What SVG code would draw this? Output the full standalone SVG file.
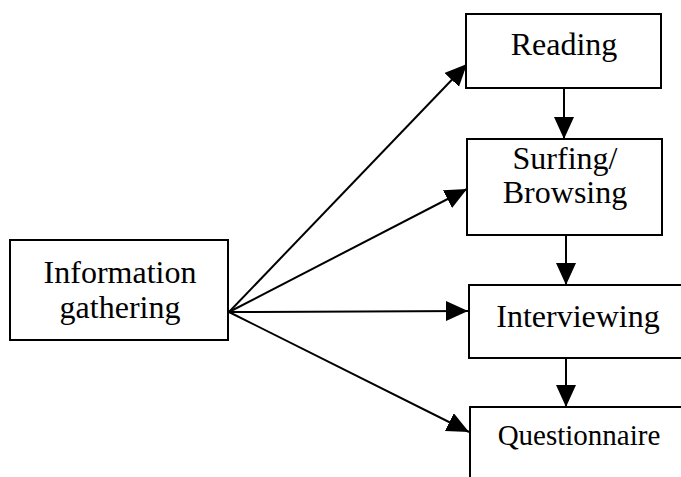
<svg xmlns="http://www.w3.org/2000/svg" width="681" height="477" viewBox="0 0 681 477">
  <defs>
    <marker id="head" markerUnits="userSpaceOnUse" markerWidth="24" markerHeight="22" refX="22" refY="10" orient="auto">
      <path d="M0,0 L22,10 L0,20 Z" fill="#000"/>
    </marker>
    <style>
      .box { fill: #fff; stroke: #000; stroke-width: 2; }
      .lbl { font-family: "Liberation Serif", "Times New Roman", serif; font-size: 32px; fill: #000; text-anchor: middle; }
      .edge { stroke: #000; stroke-width: 2; fill: none; marker-end: url(#head); }
    </style>
  </defs>
  <rect width="681" height="477" fill="#fff"/>

  <g id="connectors">
    <line class="edge" x1="229" y1="312" x2="467" y2="64"/>
    <line class="edge" x1="229" y1="312" x2="467" y2="189"/>
    <line class="edge" x1="229" y1="312" x2="468" y2="311"/>
    <line class="edge" x1="229" y1="312" x2="469" y2="432"/>
    <line class="edge" x1="564" y1="88" x2="564" y2="139"/>
    <line class="edge" x1="566" y1="235" x2="566" y2="285"/>
    <line class="edge" x1="566" y1="358" x2="566" y2="407"/>
  </g>

  <g id="information-gathering">
    <rect class="box" x="10" y="240" width="218" height="100"/>
    <text class="lbl" x="120" y="283">Information</text>
    <text class="lbl" x="120" y="318">gathering</text>
  </g>

  <g id="reading">
    <rect class="box" x="466" y="14" width="195" height="74"/>
    <text class="lbl" x="564" y="55">Reading</text>
  </g>

  <g id="surfing-browsing">
    <rect class="box" x="467" y="139" width="195" height="96"/>
    <text class="lbl" x="565" y="169">Surfing/</text>
    <text class="lbl" x="565" y="203">Browsing</text>
  </g>

  <g id="interviewing">
    <rect class="box" x="469" y="285" width="225" height="73"/>
    <text class="lbl" x="578" y="327">Interviewing</text>
  </g>

  <g id="questionnaire">
    <rect class="box" x="470" y="407" width="225" height="90"/>
    <text class="lbl" x="579" y="445" style="font-size:29px">Questionnaire</text>
  </g>
</svg>
